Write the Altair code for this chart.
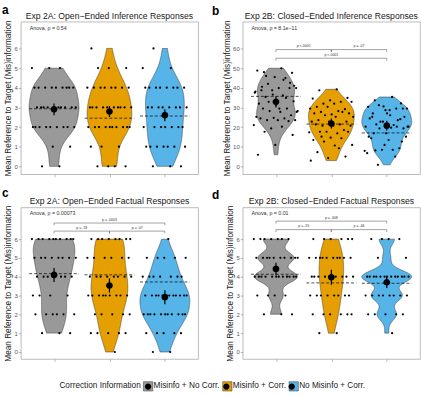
import altair as alt
import pandas as pd

FONT = "Liberation Sans"
GROUPS = ["Misinfo + No Corr.", "Misinfo + Corr.", "No Misinfo + Corr."]
COLORS = ["#999999", "#E69F00", "#56B4E9"]
LEVELS = [0, 1, 2, 3, 4, 5, 6]

# number of respondents at each integer score (panels a, c, d), per group
A_COUNTS = [[2, 2, 9, 10, 9, 3, 0], [4, 3, 10, 10, 8, 3, 1], [3, 7, 7, 8, 8, 2, 1]]
C_COUNTS = [[0, 3, 6, 4, 7, 8, 10], [1, 5, 5, 9, 8, 6, 8], [2, 5, 11, 12, 7, 5, 1]]
D_COUNTS = [[0, 0, 3, 4, 12, 10, 7], [0, 2, 6, 8, 10, 10, 6], [0, 1, 5, 8, 13, 2, 4]]

# panel b: individual scores, per group
B_GRAY = [49.9, 47.9, 47.6, 45.4, 48.7, 44.9, 42.0, 39.8, 39.8, 38.7, 39.8, 38.7, 37.5,
          36.1, 35.3, 33.1, 31.4, 31.9, 29.4, 28.1, 28.1, 27.7, 29.4, 26.0, 24.7, 25.2,
          24.4, 23.5, 23.5, 23.5, 24.4, 23.0, 19.3, 21.0, 20.2, 17.6, 16.0, 10.9, 5.9,
          34.8, 32.8, 27.7, 29.4, 40.5, 42.5, 36.5, 38.0, 44.0, 46.0, 41.0]
B_ORANGE = [39.2, 38.7, 34.8, 33.6, 34.5, 32.8, 31.9, 32.8, 31.9, 30.3, 29.1, 30.3, 29.4,
            28.1, 27.7, 26.9, 26.4, 26.9, 27.7, 26.0, 25.2, 25.2, 23.5, 22.7, 22.7, 22.7,
            21.3, 20.7, 20.7, 20.7, 21.3, 18.5, 17.6, 17.3, 16.8, 17.6, 17.6, 14.6, 13.4,
            14.3, 12.6, 10.9, 10.6, 7.2, 5.0, 4.2, 2.9, 9.2, 15.1]
B_BLUE = [35.3, 33.6, 29.4, 28.6, 30.3, 29.4, 31.1, 29.4, 28.6, 25.2, 24.0, 22.7, 20.2,
          21.0, 21.3, 25.2, 26.9, 24.4, 23.5, 22.7, 20.2, 19.7, 16.8, 12.6, 10.9, 6.7,
          5.0, 0.8, 15.1, 13.4, 14.3, 9.2, 8.4, 7.9, 8.4, 8.1, 19.3, 16.8, 15.1, 20.2,
          19.3, 20.2, 26.0, 26.9, 32.0, 30.5]
B_VALUES = [B_GRAY, B_ORANGE, B_BLUE]

# group means, half-width of the error bar, dashed reference line
MEANS = {"a": [2.90, 2.79, 2.60], "b": [32.8, 21.8, 20.7],
         "c": [4.09, 3.53, 2.91], "d": [4.41, 3.97, 3.70]}
ERR = {"a": [0.30, 0.28, 0.30], "b": [2.8, 2.5, 2.5],
       "c": [0.37, 0.38, 0.37], "d": [0.33, 0.40, 0.30]}
DASHED = {"a": [2.93, 2.45, 2.56], "b": [35.6, 21.5, 17.0],
          "c": [4.16, 4.10, 3.72], "d": [4.13, 3.67, 3.65]}

TITLES = {"a": "Exp 2A: Open\u2212Ended Inference Responses",
          "b": "Exp 2B: Closed\u2212Ended Inference Responses",
          "c": "Exp 2A: Open\u2212Ended Factual Responses",
          "d": "Exp 2B: Closed\u2212Ended Factual Responses"}
ANOVA = {"a": "Anova, p = 0.54", "b": "Anova, p = 8.1e\u221211",
         "c": "Anova, p = 0.00073", "d": "Anova, p = 0.01"}

# pairwise comparisons: from group, to group, height, label
BRACKETS = {
    "a": [],
    "b": [(1, 2, 59.4, "p <.0001"), (2, 3, 59.4, "p = .07"), (1, 3, 55.0, "p <.0001")],
    "c": [(1, 3, 6.85, "p = .0003"), (1, 2, 6.42, "p = .18"), (2, 3, 6.42, "p = .07")],
    "d": [(1, 3, 6.95, "p = .008"), (1, 2, 6.50, "p = .15"), (2, 3, 6.50, "p = .46")],
}

Y_DOMAIN = {"a": [-0.4, 7.36], "b": [-4.0, 73.6], "c": [-0.37, 7.68], "d": [-0.37, 7.68]}
Y_TICKS = {"a": LEVELS, "b": [0, 10, 20, 30, 40, 50, 60], "c": LEVELS, "d": LEVELS}

DOT = "M-0.68,0A0.68,0.68,0,1,0,0.68,0A0.68,0.68,0,1,0,-0.68,0Z"

LEG_X, LEG_Y = 39, 363
LEG_COMMON = dict(orient="none", direction="horizontal", titleOrient="left",
                  title="Correction Information", titleFont=FONT, titleFontSize=8.3,
                  titleFontWeight="normal", labelFont=FONT, labelFontSize=8.3,
                  symbolSize=88, labelOffset=0.5, columnPadding=1, titlePadding=1.5,
                  labelLimit=200, titleLimit=200,
                  legendX=LEG_X, legendY=LEG_Y, padding=0)
COLOR_LEGEND = alt.Legend(symbolType="square", symbolStrokeColor="#333333",
                          symbolStrokeWidth=0.5, labelColor="#1a1a1a",
                          titleColor="#1a1a1a", zindex=1, **LEG_COMMON)
DOT_LEGEND = alt.Legend(symbolFillColor="black", symbolStrokeColor="transparent",
                        symbolStrokeWidth=0.5, labelColor="transparent",
                        titleColor="transparent", zindex=2, **LEG_COMMON)

W = 179


def points_frame(key):
    rows = []
    for gi in range(3):
        if key == "b":
            vals = B_VALUES[gi]
        else:
            counts = {"a": A_COUNTS, "c": C_COUNTS, "d": D_COUNTS}[key][gi]
            vals = [lvl for lvl, c in zip(LEVELS, counts) for _ in range(c)]
        for v in vals:
            rows.append({"group": GROUPS[gi], "gi": gi + 1, "value": v})
    return pd.DataFrame(rows)


def panel(key, height, letter_dx, letter_dy):
    pts = points_frame(key)
    summ = pd.DataFrame({"group": GROUPS, "gi": [1, 2, 3], "mean": MEANS[key],
                         "err": ERR[key], "dash": DASHED[key]})
    xs = alt.Scale(domain=[0.4, 3.6], nice=False, zero=False)
    ys = alt.Scale(domain=Y_DOMAIN[key], nice=False, zero=False)
    xax = alt.Axis(values=[1, 2, 3], labels=False, title=None, grid=False, domain=False)
    yax = alt.Axis(values=Y_TICKS[key], title="Mean Reference to Target (Mis)information",
                   grid=False, domain=False)

    def X(f):
        return alt.X(f, type="quantitative", scale=xs, axis=xax)

    def Y(f):
        return alt.Y(f, type="quantitative", scale=ys, axis=yax)

    color = alt.Color("group:N", scale=alt.Scale(domain=GROUPS, range=COLORS),
                      legend=COLOR_LEGEND)

    violin = (
        alt.Chart(pts)
        .transform_joinaggregate(sd="stdev(value)", q1="q1(value)", q3="q3(value)",
                                 n="count()", vmin="min(value)", vmax="max(value)",
                                 groupby=["group"])
        .transform_calculate(h="0.9*min(datum.sd,(datum.q3-datum.q1)/1.34)*pow(datum.n,-0.2)")
        .transform_calculate(vs="datum.value/datum.h")
        .transform_density("vs", groupby=["group", "gi", "h", "vmin", "vmax"],
                           as_=["vs", "dens"], bandwidth=1, steps=600)
        .transform_calculate(value="datum.vs*datum.h", d="datum.dens/datum.h")
        .transform_filter("datum.value >= datum.vmin && datum.value <= datum.vmax")
        .transform_joinaggregate(maxd="max(d)")
        .transform_calculate(lo="datum.gi-0.45*datum.d/datum.maxd",
                             hi="datum.gi+0.45*datum.d/datum.maxd")
        .mark_area(orient="horizontal", stroke="#333333", strokeWidth=0.5, opacity=1)
        .encode(y=Y("value"), x=X("lo"), x2="hi", color=color)
    )

    dashed = (
        alt.Chart(summ)
        .transform_calculate(dl="datum.gi-0.45", dr="datum.gi+0.45")
        .mark_rule(color="black", strokeDash=[3, 2], strokeWidth=0.7)
        .encode(x=X("dl"), x2="dr", y=Y("dash"))
    )

    dots = (
        alt.Chart(pts)
        .transform_window(rn="row_number()", groupby=["group"])
        .transform_calculate(jx="datum.gi+((datum.rn*0.6180339887)%1-0.5)*0.82")
        .mark_circle(size=5, color="black", opacity=1)
        .encode(x=X("jx"), y=Y("value"))
    )

    err = (
        alt.Chart(summ)
        .transform_calculate(lo="datum.mean-datum.err", hi="datum.mean+datum.err")
        .mark_rule(color="black", strokeWidth=1.2)
        .encode(x=X("gi"), y=Y("lo"), y2="hi")
    )

    # shape scale keeps a data-driven (sorted) domain so that its legend stays
    # separate from the colour legend and can be overlaid on it as the key dot
    mean = (
        alt.Chart(summ)
        .mark_point(filled=True, size=100, color="black", opacity=1, strokeWidth=0)
        .encode(x=X("gi"), y=Y("mean"),
                shape=alt.Shape("group:N", sort=GROUPS,
                                scale=alt.Scale(range=[DOT] * 3),
                                legend=DOT_LEGEND))
    )

    anova = (
        alt.Chart(pd.DataFrame({"t": [ANOVA[key]]}))
        .mark_text(align="left", baseline="middle", fontSize=5.3, color="#333333",
                   font=FONT, x=9, y=6)
        .encode(text="t:N")
    )

    title = (
        alt.Chart(pd.DataFrame({"t": [TITLES[key]]}))
        .mark_text(align="center", baseline="middle", fontSize=8.7, color="#1a1a1a",
                   font=FONT, x=W / 2, y=-6)
        .encode(text="t:N")
    )

    letter = (
        alt.Chart(pd.DataFrame({"t": [key]}))
        .mark_text(align="left", baseline="middle", fontSize=12, fontWeight="bold",
                   color="black", font=FONT, x=letter_dx, y=letter_dy)
        .encode(text="t:N")
    )

    layers = [violin, dashed, dots, err, mean, anova, title, letter]

    if BRACKETS[key]:
        br = pd.DataFrame(BRACKETS[key], columns=["x1", "x2", "yb", "label"])
        bbase = alt.Chart(br)
        hline = bbase.mark_rule(color="#666666", strokeWidth=0.6).encode(
            x=X("x1"), x2="x2", y=Y("yb"))
        t1 = bbase.mark_rule(color="#666666", strokeWidth=0.6, y2Offset=2.4).encode(
            x=X("x1"), y=Y("yb"), y2="yb")
        t2 = bbase.mark_rule(color="#666666", strokeWidth=0.6, y2Offset=2.4).encode(
            x=X("x2"), y=Y("yb"), y2="yb")
        lab = (bbase.transform_calculate(xm="(datum.x1+datum.x2)/2")
               .mark_text(baseline="bottom", dy=-1.5, fontSize=3.6, color="#333333", font=FONT)
               .encode(x=X("xm"), y=Y("yb"), text="label:N"))
        layers += [hline, t1, t2, lab]

    return alt.layer(*layers).properties(width=W, height=height)


row1 = alt.hconcat(panel("a", 154, -19, -12), panel("b", 154, -31, -10.5), spacing=12)
row2 = alt.hconcat(panel("c", 153, -19, -14.5), panel("d", 153, -31, -12), spacing=12)

chart = (
    alt.vconcat(row1, row2, spacing=8.5)
    .properties(padding={"left": 1, "top": 1, "right": 0, "bottom": 0})
    .configure(font=FONT)
    .configure_view(stroke="#aaaaaa", strokeWidth=0.8)
    .configure_axis(labelFont=FONT, labelFontSize=6, labelColor="#555555",
                    tickColor="#888888", tickSize=2.5, tickWidth=0.6,
                    titleFont=FONT, titleFontSize=8.3, titleColor="#222222",
                    titleFontWeight="normal", labelPadding=1, titlePadding=1.5)
)

chart.save("out.html", embed_options={"renderer": "svg", "actions": False})
